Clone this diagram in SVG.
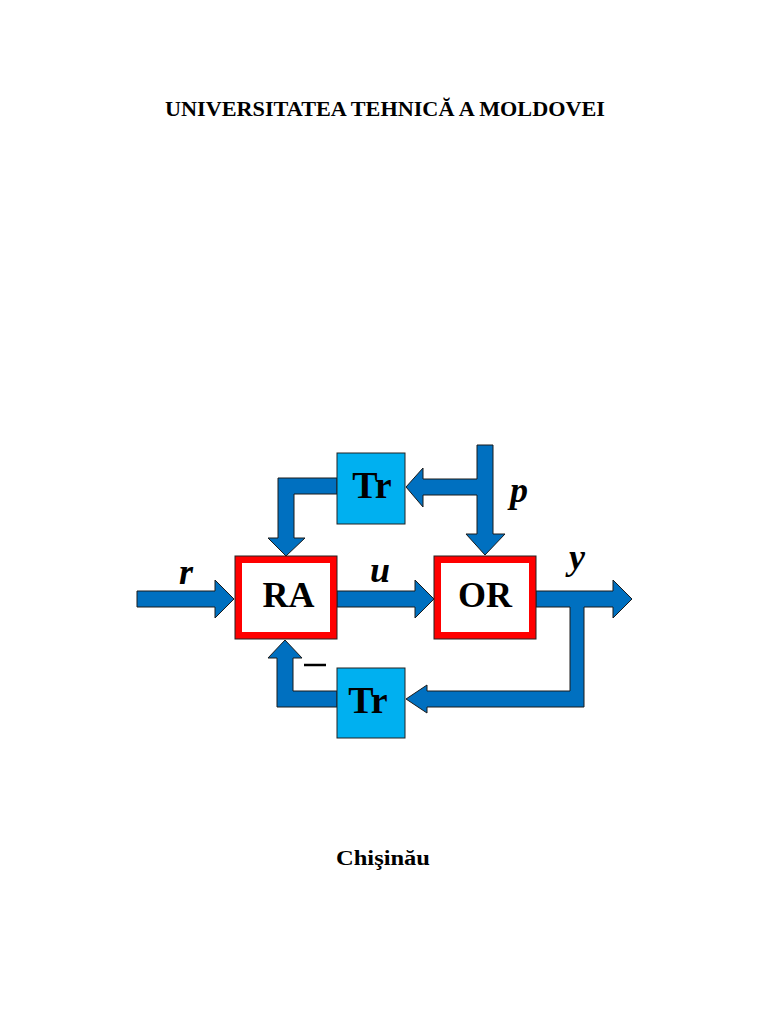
<svg xmlns="http://www.w3.org/2000/svg" width="768" height="1024" viewBox="0 0 768 1024">
<style>
.arrow{fill:#0070C0;stroke:#1a1a1a;stroke-width:1;stroke-linejoin:miter}
.blk{fill:#FFFFFF;stroke:#FF0000;stroke-width:7}
.blkout{fill:none;stroke:#222;stroke-width:1}
.tr{fill:#00B0F0;stroke:#222;stroke-width:1}
.bt{font-family:"Liberation Serif","Times New Roman",serif;font-weight:bold;fill:#000;text-anchor:middle}
.var{font-family:"Liberation Serif","Times New Roman",serif;font-weight:bold;font-style:italic;font-size:36px;fill:#000;text-anchor:middle}
.hdr{font-family:"Liberation Serif","Times New Roman",serif;font-weight:bold;font-size:20.5px;fill:#000;text-anchor:middle}
</style>
<rect width="768" height="1024" fill="#FFFFFF"/>
<text class="hdr" x="385" y="116" textLength="440" lengthAdjust="spacingAndGlyphs">UNIVERSITATEA TEHNICĂ A MOLDOVEI</text>
<text class="hdr" x="383" y="865" textLength="94" lengthAdjust="spacingAndGlyphs">Chişinău</text>
<g id="connectors">
<polygon class="arrow" points="137,591 215,591 215,580 234,599 215,618 215,607 137,607"/>
<polygon class="arrow" points="337,591 415,591 415,580 434,599 415,618 415,607 337,607"/>
<polygon class="arrow" points="536,591 613,591 613,580 632,599 613,618 613,607 584,607 584,707 427,707 427,713 406,699 427,685 427,691 570,691 570,607 536,607"/>
<polygon class="arrow" points="337,691 293,691 293,658 302,658 285,640 268,658 277,658 277,707 337,707"/>
<polygon class="arrow" points="337,478 278,478 278,538 268,538 286,556 305,538 294,538 294,494 337,494"/>
<polygon class="arrow" points="477,445 493,445 493,534 505,534 485,555 466,534 477,534 477,495 423,495 423,507 406,487 423,468 423,479 477,479"/>
<line x1="304" y1="665" x2="326" y2="665" stroke="#000" stroke-width="2.5"/>
</g>
<g id="RA">
<rect class="blk" x="238.5" y="559.5" width="95" height="76"/>
<rect class="blkout" x="235" y="556" width="102" height="83"/>
<text class="bt" x="288.5" y="607" font-size="36">RA</text>
</g>
<g id="OR">
<rect class="blk" x="437.5" y="559.5" width="95" height="76"/>
<rect class="blkout" x="434" y="556" width="102" height="83"/>
<text class="bt" x="485" y="607" font-size="36">OR</text>
</g>
<g id="Tr_top">
<rect class="tr" x="337" y="453" width="68" height="71"/>
<text class="bt" x="372" y="498" font-size="38">Tr</text>
</g>
<g id="Tr_bottom">
<rect class="tr" x="337" y="668" width="68" height="70"/>
<text class="bt" x="368" y="713" font-size="38">Tr</text>
</g>
<g id="labels">
<text class="var" x="186" y="584">r</text>
<text class="var" x="380" y="582">u</text>
<text class="var" x="519" y="502">p</text>
<text class="var" x="577" y="569">y</text>
</g>
</svg>
